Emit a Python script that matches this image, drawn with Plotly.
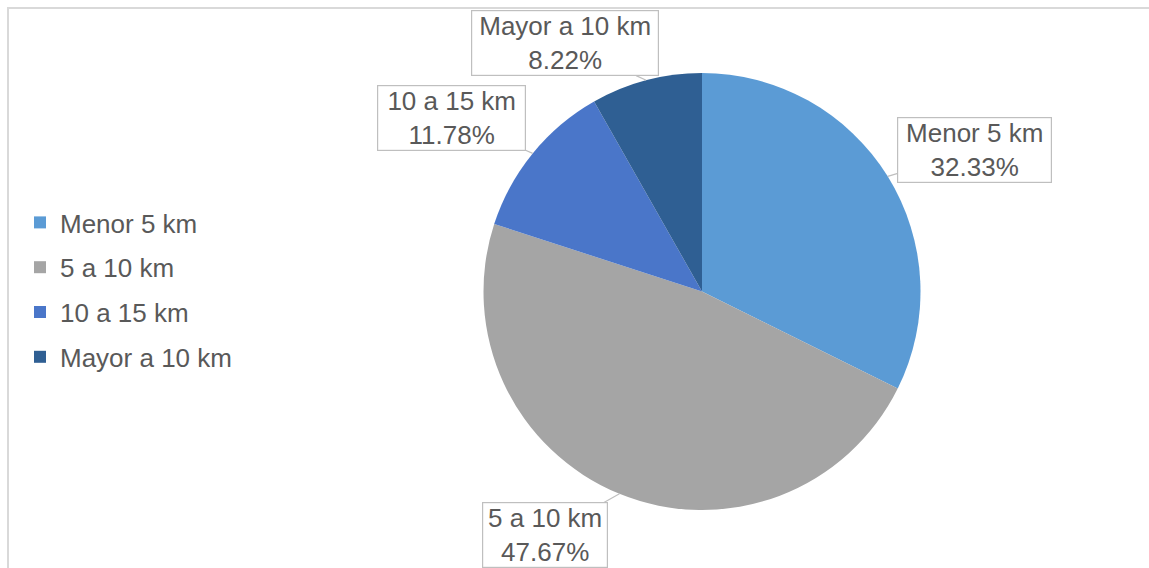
import math
import plotly.graph_objects as go

# Distance bands and their share of trips (%)
categories = ["Menor 5 km", "5 a 10 km", "10 a 15 km", "Mayor a 10 km"]
shares = [32.33, 47.67, 11.78, 8.22]
slice_colors = ["#5B9BD5", "#A5A5A5", "#4A76C9", "#2F5F93"]

W, H = 1149, 568
cx, cy, R = 702, 291.5, 218.5  # pie centre and radius in pixels
FONT = "Liberation Sans, Arial, sans-serif"
TEXT_COLOR = "#595959"

fig = go.Figure(
    go.Pie(
        labels=categories,
        values=shares,
        sort=False,
        direction="clockwise",
        rotation=0,
        marker=dict(colors=slice_colors, line=dict(width=0)),
        textinfo="none",
        hoverinfo="label+percent",
        showlegend=False,
        domain=dict(
            x=[(cx - R) / W, (cx + R) / W],
            y=[(H - cy - R) / H, (H - cy + R) / H],
        ),
    )
)

# Legend entries, one group per band so the rows can be spaced out
for name, color in zip(categories, slice_colors):
    fig.add_trace(
        go.Scatter(
            x=[None],
            y=[None],
            mode="markers",
            name=name,
            legendgroup=name,
            marker=dict(symbol="square", size=12, color=color),
            hoverinfo="skip",
        )
    )

# Callout boxes: offset (px) of each box from its slice's rim point, and box width
callout_offsets = [(87, -26, 153), (-74, 41, 124), (-81, -35, 147), (-81, -37, 186)]

total = sum(shares)
cum = 0.0
annotations = []
for name, val, (ax, ay, bw) in zip(categories, shares, callout_offsets):
    mid = (cum + val / 2) / total * 2 * math.pi
    cum += val
    px = cx + R * math.sin(mid)
    py = cy - R * math.cos(mid)
    annotations.append(
        dict(
            x=px / W,
            y=1 - py / H,
            xref="paper",
            yref="paper",
            text=f"{name}<br>{val:.2f}%",
            showarrow=True,
            arrowhead=0,
            arrowwidth=1.2,
            arrowcolor="#BFBFBF",
            standoff=0,
            ax=ax,
            ay=ay,
            width=bw,
            align="center",
            bgcolor="white",
            bordercolor="#BFBFBF",
            borderwidth=1.2,
            borderpad=0,
            font=dict(family=FONT, size=26, color=TEXT_COLOR),
        )
    )

fig.update_layout(
    width=W,
    height=H,
    margin=dict(l=0, r=0, t=0, b=0),
    paper_bgcolor="white",
    plot_bgcolor="white",
    font=dict(family=FONT, size=26, color=TEXT_COLOR),
    showlegend=True,
    xaxis=dict(visible=False),
    yaxis=dict(visible=False),
    legend=dict(
        x=20 / W,
        y=1 - 290 / H,
        xanchor="left",
        yanchor="middle",
        font=dict(family=FONT, size=26, color=TEXT_COLOR),
        bgcolor="rgba(0,0,0,0)",
        tracegroupgap=8,
        itemclick=False,
        itemdoubleclick=False,
    ),
    annotations=annotations,
    shapes=[
        dict(
            type="rect",
            xref="paper",
            yref="paper",
            x0=8 / W,
            x1=1.05,
            y0=-0.05,
            y1=1 - 8 / H,
            line=dict(color="#D9D9D9", width=2),
            fillcolor="rgba(0,0,0,0)",
            layer="below",
        )
    ],
)

fig.write_html("out.html")
